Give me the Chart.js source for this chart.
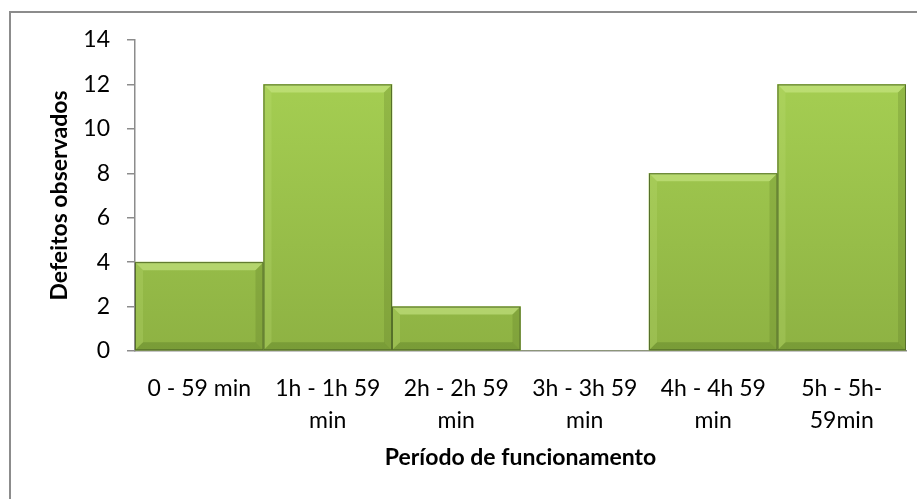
<!DOCTYPE html>
<html>
<head>
<meta charset="utf-8">
<script src="https://cdn.jsdelivr.net/npm/chart.js@4.4.1/dist/chart.umd.min.js"></script>
<style>
  html, body { margin: 0; padding: 0; background: #fff; overflow: hidden; }
  #frame { position: absolute; left: 9px; top: 11px; width: 1000px; height: 600px;
           border-left: 2px solid #8c8c8c; border-top: 2px solid #8c8c8c; }
  #wrap { position: absolute; left: 0; top: 0; width: 917px; height: 499px; }
</style>
</head>
<body>
<div id="frame"></div>
<div id="wrap"><canvas id="grafico"></canvas></div>
<script>
const periodos = [
  ['0 - 59 min'],
  ['1h - 1h 59', 'min'],
  ['2h - 2h 59', 'min'],
  ['3h - 3h 59', 'min'],
  ['4h - 4h 59', 'min'],
  ['5h - 5h-', '59min']
];
const defeitos = [4, 12, 2, 0, 8, 12];

const fonte = "Lato, 'Open Sans', sans-serif";

// degradê verde das barras (mais claro no topo)
function corBarra(context) {
  const area = context.chart.chartArea;
  if (!area) return '#9bc447';
  const g = context.chart.ctx.createLinearGradient(0, area.top, 0, area.bottom);
  g.addColorStop(0, '#a8d254');
  g.addColorStop(1, '#8eb243');
  return g;
}

// chanfro suave nas bordas de cada barra, estilo Excel
const chanfro = {
  id: 'chanfro',
  afterDatasetsDraw(chart) {
    const ctx = chart.ctx;
    const meta = chart.getDatasetMeta(0);
    const b = 8;
    meta.data.forEach(bar => {
      const left = bar.x - bar.width / 2;
      const right = bar.x + bar.width / 2;
      const top = bar.y;
      const bottom = bar.base;
      if (bottom - top < 2) return;
      ctx.save();
      // topo claro
      ctx.fillStyle = 'rgba(205,235,140,0.55)';
      ctx.beginPath();
      ctx.moveTo(left, top); ctx.lineTo(right, top);
      ctx.lineTo(right - b, top + b); ctx.lineTo(left + b, top + b);
      ctx.closePath(); ctx.fill();
      // lado esquerdo
      ctx.fillStyle = 'rgba(190,225,120,0.25)';
      ctx.beginPath();
      ctx.moveTo(left, top); ctx.lineTo(left + b, top + b);
      ctx.lineTo(left + b, bottom - b); ctx.lineTo(left, bottom);
      ctx.closePath(); ctx.fill();
      // lado direito escuro
      ctx.fillStyle = 'rgba(80,110,30,0.22)';
      ctx.beginPath();
      ctx.moveTo(right, top); ctx.lineTo(right - b, top + b);
      ctx.lineTo(right - b, bottom - b); ctx.lineTo(right, bottom);
      ctx.closePath(); ctx.fill();
      // base escura
      ctx.fillStyle = 'rgba(70,100,25,0.28)';
      ctx.beginPath();
      ctx.moveTo(left, bottom); ctx.lineTo(left + b, bottom - b);
      ctx.lineTo(right - b, bottom - b); ctx.lineTo(right, bottom);
      ctx.closePath(); ctx.fill();
      // contorno
      ctx.strokeStyle = '#56702a';
      ctx.lineWidth = 1;
      ctx.strokeRect(left + 0.5, top + 0.5, right - left - 1, bottom - top - 1);
      ctx.restore();
    });
  }
};

const ctx = document.getElementById('grafico').getContext('2d');

new Chart(ctx, {
  type: 'bar',
  data: {
    labels: periodos,
    datasets: [{
      label: 'Defeitos observados',
      data: defeitos,
      backgroundColor: corBarra,
      borderWidth: 0,
      barPercentage: 1,
      categoryPercentage: 1
    }]
  },
  options: {
    responsive: true,
    maintainAspectRatio: false,
    animation: false,
    layout: { padding: { top: 40, right: 11, left: 0, bottom: 0 } },
    plugins: {
      legend: { display: false },
      tooltip: { enabled: false }
    },
    scales: {
      x: {
        afterFit(scale) { scale.height = 148; },
        grid: { display: false },
        border: { display: true, color: '#8c8c8c', width: 1.5 },
        ticks: {
          color: '#000',
          padding: 14,
          maxRotation: 0,
          autoSkip: false,
          font: { family: fonte, size: 23, lineHeight: 1.38 }
        },
        title: {
          display: true,
          text: 'Período de funcionamento',
          color: '#000',
          padding: { top: 4, bottom: 28 },
          font: { family: fonte, size: 23, weight: 'bold' }
        }
      },
      y: {
        min: 0,
        max: 14,
        afterFit(scale) { scale.width = 135; },
        grid: {
          drawOnChartArea: false,
          drawTicks: true,
          tickLength: 8,
          color: '#8c8c8c',
          lineWidth: 1.5
        },
        border: { display: true, color: '#8c8c8c', width: 1.5 },
        ticks: {
          stepSize: 2,
          color: '#000',
          padding: 17,
          font: { family: fonte, size: 23 }
        },
        title: {
          display: true,
          text: 'Defeitos observados',
          color: '#000',
          padding: { top: 46, bottom: 0 },
          font: { family: fonte, size: 23, weight: 'bold' }
        }
      }
    }
  },
  plugins: [chanfro]
});
</script>
</body>
</html>
